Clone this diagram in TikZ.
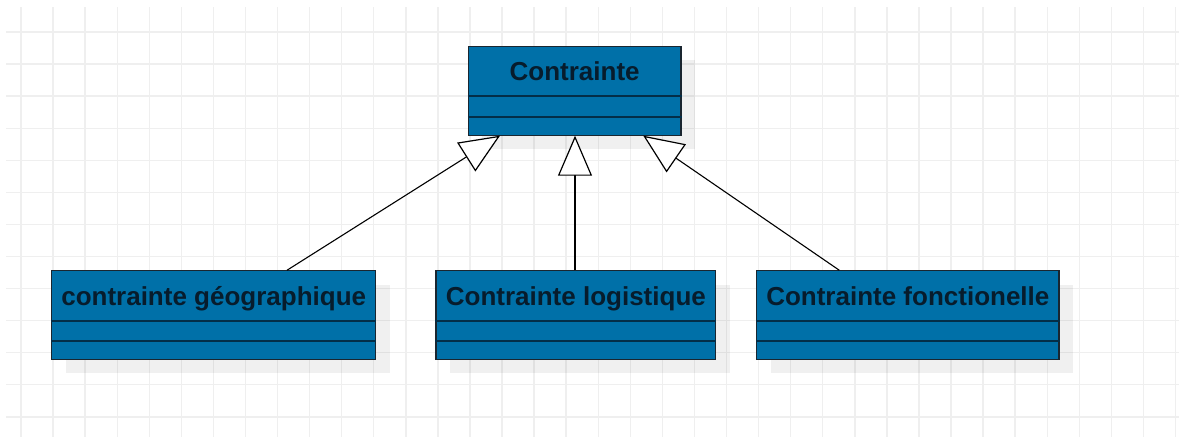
\documentclass[tikz,border=0pt]{standalone}
\usepackage{fontspec}
\setmainfont{Liberation Sans}
\usetikzlibrary{arrows.meta,shadows}
\definecolor{boxblue}{HTML}{0070A8}
\definecolor{boxline}{HTML}{1A2630}
\definecolor{divline}{HTML}{032E48}
\definecolor{txtcol}{HTML}{071C2C}
\definecolor{gridcol}{HTML}{EFEFEF}
\tikzset{
  gridline/.style={draw=gridcol, line width=1.4pt},
  classbox/.style={draw=boxline, fill=boxblue, line width=1.1pt, rectangle, inner sep=0pt,
    drop shadow={shadow xshift=14pt, shadow yshift=-14pt, fill=black, opacity=0.06}},
  classname/.style={text=txtcol, font=\bfseries\fontsize{26}{30}\selectfont, inner sep=0pt, anchor=base},
  divider/.style={draw=divline, line width=2pt},
  gen/.style={draw=black, line width=1.1pt, -{Triangle[length=40pt, width=34pt, fill=white, line width=1.2pt]}}
}
\begin{document}
\begin{tikzpicture}[x=1pt, y=-1pt]
\useasboundingbox (0,0) rectangle (1179,437);
\fill[white] (0,0) rectangle (1179,437);
% grid
\foreach \i in {0,...,36} \draw[gridline] ({21+32.07*\i},7) -- ({21+32.07*\i},437);
\foreach \j in {0,...,12} \draw[gridline] (6,{32+32.07*\j}) -- (1179,{32+32.07*\j});
% classes
\node[classbox, minimum width=212.7pt, minimum height=89pt] (top) at (574.65,90.65) {};
\node[classbox, minimum width=324pt, minimum height=88.4pt] (geo) at (213.7,315) {};
\node[classbox, minimum width=279.7pt, minimum height=88.4pt] (log) at (575.85,315) {};
\node[classbox, minimum width=302.3pt, minimum height=88.4pt] (fon) at (907.85,315) {};
% names
\node[classname] (topname) at ([yshift=-34.8pt]top.north) {Contrainte};
\node[classname] (geoname) at ([yshift=-34.8pt]geo.north) {contrainte géographique};
\node[classname] (logname) at ([yshift=-34.8pt]log.north) {Contrainte logistique};
\node[classname] (fonname) at ([yshift=-34.8pt]fon.north) {Contrainte fonctionelle};
% compartments
\foreach \n in {top,geo,log,fon}{
  \draw[divider] ([yshift=-50.6pt]\n.north west) -- ([yshift=-50.6pt]\n.north east);
  \draw[divider] ([yshift=-71pt]\n.north west) -- ([yshift=-71pt]\n.north east);
}
% generalizations
\draw[gen] ([xshift=73.3pt]geo.north) -- ([xshift=-74.65pt]top.south);
\draw[gen] ([xshift=-0.85pt]log.north) -- ([xshift=0.35pt]top.south);
\draw[gen] ([xshift=-68.55pt]fon.north) -- ([xshift=68.65pt]top.south);
\end{tikzpicture}
\end{document}
